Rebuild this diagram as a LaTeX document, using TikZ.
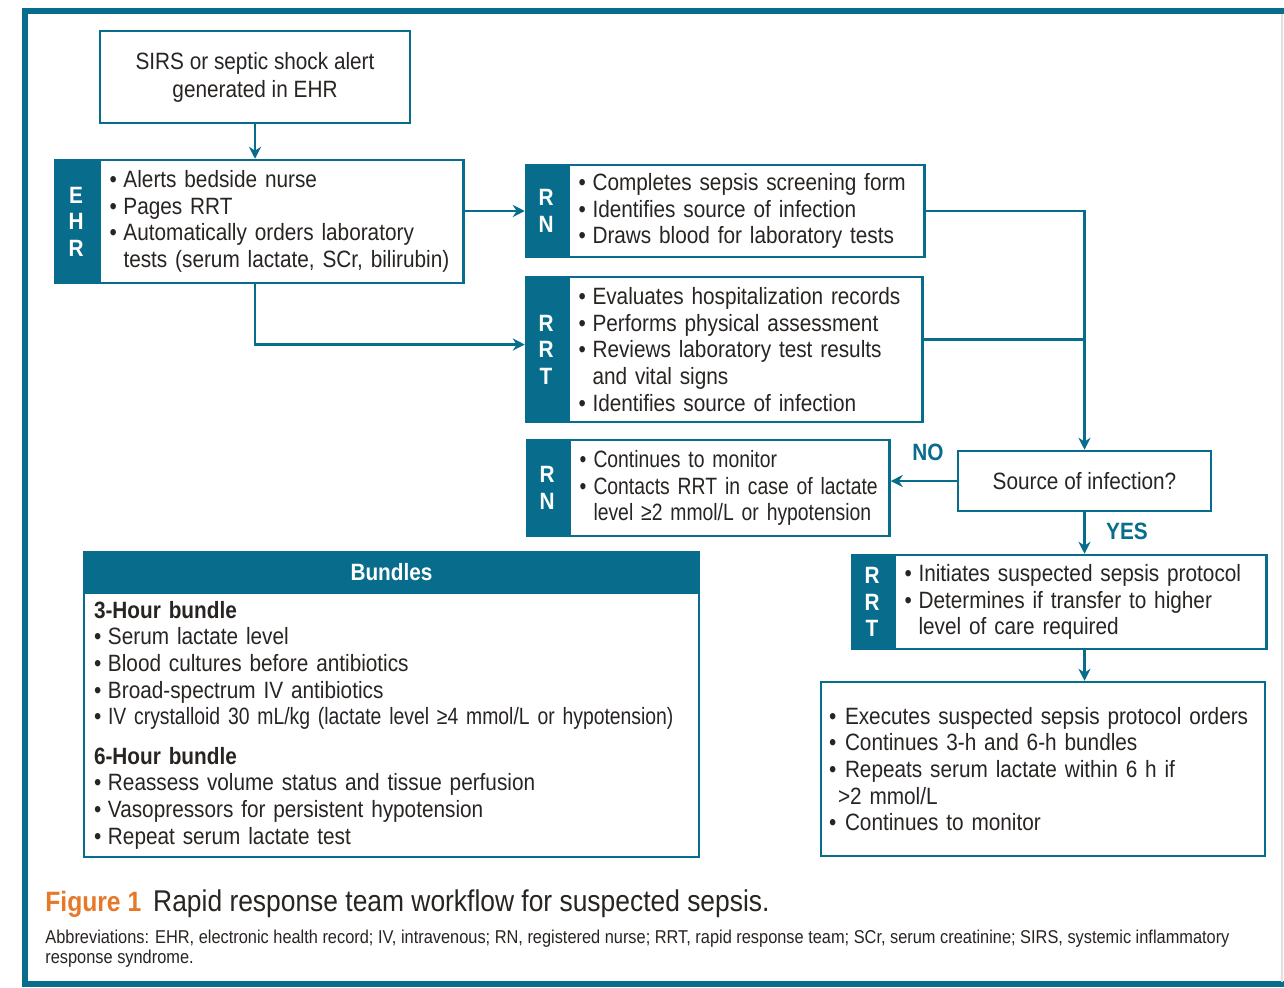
\documentclass[tikz,border=0pt]{standalone}
\usepackage{fontspec}
\setmainfont[FakeStretch=0.88]{Liberation Sans}
\newfontfamily\narrowfont[FakeStretch=0.82]{Liberation Sans}
\usetikzlibrary{arrows.meta,calc}
\definecolor{teal0}{RGB}{8,108,140}
\definecolor{ink}{RGB}{40,36,34}
\definecolor{figorange}{RGB}{230,120,40}
\newcommand\bul{\makebox[7pt][l]{\textbullet}}
\newcommand\bulw{\makebox[8pt][l]{\textbullet}}
\newcommand\cont{\hspace*{7pt}}

\begin{document}
\begin{tikzpicture}[x=0.5pt,y=-0.5pt,
  every node/.style={font=\fontsize{11.8pt}{13.3pt}\selectfont, text=ink},
  frame/.style={draw=teal0, line width=3pt},
  txtbox/.style={draw=teal0, line width=1.25pt, align=left, inner xsep=5pt, inner ysep=0pt, anchor=west},
  plainbox/.style={draw=teal0, line width=1.25pt, align=left, inner xsep=5pt, inner ysep=0pt},
  sidebar/.style={draw=teal0, fill=teal0, line width=1.25pt, text=white,
    font=\fontsize{11.8pt}{13.3pt}\selectfont\bfseries, align=center, inner sep=0pt},
  link/.style={draw=teal0, line width=1.25pt},
  arr/.style={link, -{Stealth[length=6pt,width=6pt]}},
  tag/.style={text=teal0, font=\fontsize{11.8pt}{13pt}\selectfont\bfseries}
]
\clip (0,0) rectangle (1284,987);
\fill[white] (0,0) rectangle (1284,987);

% outer frame
\draw[frame] (25,11) rectangle (1300,984);
\draw[black!12, line width=1pt] (1282,14) -- (1282,982);

% alert box
\node[plainbox, align=center, minimum width=155pt, minimum height=46pt,
      font=\fontsize{11.8pt}{14pt}\selectfont] (sirs) at (255,77)
  {SIRS or septic shock alert\\generated in EHR};

% EHR actions
\node[sidebar, minimum width=21pt, minimum height=61.5pt] (ehrbar) at (76,221.5) {E\\H\\R};
\node[txtbox, text width=172pt, minimum height=61.5pt] (ehr) at (ehrbar.east)
  {\bul Alerts bedside nurse\\
   \bul Pages RRT\\
   \bul Automatically orders laboratory\\
   \cont tests (serum lactate, SCr, bilirubin)};

% RN screening
\node[sidebar, minimum width=20pt, minimum height=46pt] (rn1bar) at (546,211) {R\\N};
\node[txtbox, text width=168pt, minimum height=46pt] (rn1) at (rn1bar.east)
  {\bul Completes sepsis screening form\\
   \bul Identifies source of infection\\
   \bul Draws blood for laboratory tests};

% RRT assessment
\node[sidebar, minimum width=20pt, minimum height=72.5pt] (rrt1bar) at (546,349.5) {R\\R\\T};
\node[txtbox, text width=167pt, minimum height=72.5pt] (rrt1) at (rrt1bar.east)
  {\bul Evaluates hospitalization records\\
   \bul Performs physical assessment\\
   \bul Reviews laboratory test results\\
   \cont and vital signs\\
   \bul Identifies source of infection};

% RN monitoring
\node[sidebar, minimum width=20pt, minimum height=48pt] (rn2bar) at (547,488) {R\\N};
\node[txtbox, text width=150pt, minimum height=48pt,
      font=\narrowfont\fontsize{11.8pt}{13.3pt}\selectfont] (rn2) at (rn2bar.east)
  {\bul Continues to monitor\\
   \bul Contacts RRT in case of lactate\\
   \cont level ≥2 mmol/L or hypotension};

% decision
\node[plainbox, align=center, minimum width=126.5pt, minimum height=30pt] (src) at (1084.5,481)
  {Source of infection?};

% RRT protocol
\node[sidebar, minimum width=20pt, minimum height=47pt] (rrt2bar) at (872,602) {R\\R\\T};
\node[txtbox, text width=176pt, minimum height=47pt] (rrt2) at (rrt2bar.east)
  {\bul Initiates suspected sepsis protocol\\
   \bul Determines if transfer to higher\\
   \cont level of care required};

% follow-up
\node[plainbox, inner xsep=4pt, text width=214pt, minimum height=87pt] (fin) at (1043,769)
  {\bulw Executes suspected sepsis protocol orders\\
   \bulw Continues 3-h and 6-h bundles\\
   \bulw Repeats serum lactate within 6 h if\\
   \hspace*{4.5pt}>2 mmol/L\\
   \bulw Continues to monitor};

% bundles panel
\node[plainbox, text width=297.5pt, minimum height=132pt] (bund) at (391.5,725)
  {{\bfseries 3-Hour bundle}\\
   \bul Serum lactate level\\
   \bul Blood cultures before antibiotics\\
   \bul Broad-spectrum IV antibiotics\\
   \bul {\narrowfont IV crystalloid 30 mL/kg (lactate level ≥4 mmol/L or hypotension)}\\[6.5pt]
   {\bfseries 6-Hour bundle}\\
   \bul Reassess volume status and tissue perfusion\\
   \bul Vasopressors for persistent hypotension\\
   \bul Repeat serum lactate test};
\node[sidebar, minimum width=307.5pt, minimum height=20.5pt] (bundhead) at (391.5,572.5) {Bundles};

% connectors
\draw[arr] (sirs.south) -- (sirs.south |- ehr.north);
\draw[arr] (ehr.east |- rn1bar.west) -- (rn1bar.west);
\coordinate (rrtin) at ($(rrt1bar.west)+(0,-5)$);
\draw[arr] (sirs.south |- ehr.south) |- (rrtin);
\draw[arr] (rn1.east) -| (src.north);
\coordinate (rrtout) at ($(rrt1.east)+(0,-10)$);
\draw[link] (rrtout) -- (rrtout -| src.north);
\draw[arr] (src.west) -- (src.west -| rn2.east);
\draw[arr] (src.south) -- (src.south |- rrt2.north);
\draw[arr] (src.south |- rrt2.south) -- (src.south |- fin.north);

\node[tag] (no) at (928,452) {NO};
\node[tag] (yes) at (1127,531) {YES};

% caption
\node[anchor=base west, inner sep=0pt, font=\fontsize{15pt}{17pt}\selectfont] (cap) at (45,911)
  {\textcolor{figorange}{\fontsize{14pt}{17pt}\selectfont\bfseries Figure 1}\hspace{6pt}Rapid response team workflow for suspected sepsis.};
\node[anchor=north west, inner sep=0pt, align=left, font=\fontsize{9.3pt}{10pt}\selectfont] (abbr) at (45,930)
  {Abbreviations: EHR, electronic health record; IV, intravenous; RN, registered nurse; RRT, rapid response team; SCr, serum creatinine; SIRS, systemic inflammatory\\
   response syndrome.};
\end{tikzpicture}
\end{document}
